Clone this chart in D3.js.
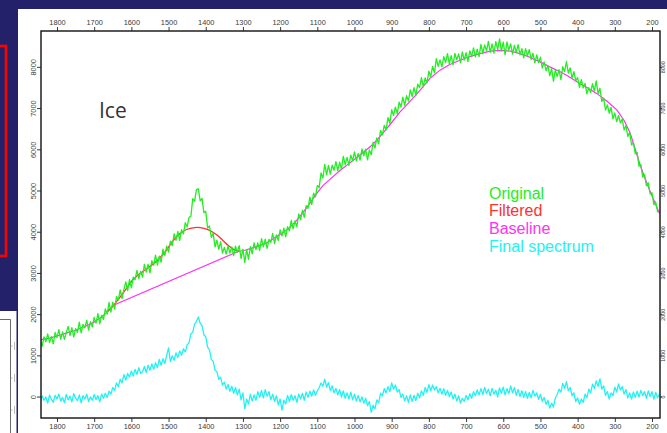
<!DOCTYPE html>
<html>
<head>
<meta charset="utf-8">
<script src="https://cdn.jsdelivr.net/npm/d3@7/dist/d3.min.js"></script>
<style>
  html, body { margin: 0; padding: 0; background: #232169; overflow: hidden; }
  svg { display: block; }
  .tick text { font-family: "Liberation Sans", Arial, sans-serif; font-size: 7.4px; fill: #3a3a3a; }
</style>
</head>
<body>
<script>
// Raman spectrum of ice: raw signal, filtered peak region, fitted baseline and corrected spectrum.
// Spectra are sampled every 5 cm-1, starting at 1845 cm-1 and going down.
const WAVE_START = 1845;
const WAVE_STEP = 5;

const xTicks = [1800, 1700, 1600, 1500, 1400, 1300, 1200, 1100, 1000, 900, 800, 700, 600, 500, 400, 300, 200];
const yTicks = [0, 1000, 2000, 3000, 4000, 5000, 6000, 7000, 8000];

const originalValues = [
  1390,1220,1450,1330,1520,1310,1455,1280,1555,1430,
  1624,1388,1572,1386,1550,1704,1478,1672,1446,1650,
  1558,1806,1544,1752,1670,1852,1614,1816,1688,1920,
  1782,2015,1767,1970,1873,2127,2000,2283,2047,2290,
  2122,2425,2347,2590,2377,2595,2782,2570,2840,2640,
  2900,2840,3062,2865,3037,2900,3210,3020,3210,3000,
  3297,3185,3432,3190,3405,3260,3575,3420,3653,3507,
  3770,3660,3950,3790,4010,3790,4050,3945,4220,4115,
  4350,4370,4800,4735,5020,5040,4750,4810,4460,4495,
  4090,4140,3860,3960,3630,3795,3570,3760,3480,3620,
  3457,3653,3480,3633,3417,3650,3497,3663,3350,3577,
  3253,3570,3330,3640,3465,3730,3565,3727,3545,3832,
  3630,3818,3595,3813,3741,3957,3714,3920,3783,4047,
  3900,4085,3873,4122,4020,4275,4070,4265,4120,4430,
  4290,4520,4348,4635,4563,4840,4658,4935,4843,5120,
  5073,5427,5300,5633,5387,5610,5397,5615,5492,5700,
  5482,5690,5520,5830,5627,5804,5611,5858,5721,5935,
  5720,5902,5735,6007,5844,6004,5745,5985,5865,6170,
  6030,6275,6130,6460,6350,6580,6470,6770,6630,6960,
  6820,7025,6860,7145,7025,7267,7068,7300,7170,7440,
  7280,7494,7307,7580,7493,7740,7517,7733,7610,7897,
  7763,8010,7855,8200,8010,8170,8000,8250,8100,8320,
  8070,8270,8050,8325,8170,8315,8100,8362,8164,8346,
  8128,8390,8250,8460,8240,8430,8250,8547,8324,8531,
  8388,8616,8352,8558,8334,8610,8420,8680,8380,8600,
  8293,8605,8408,8560,8310,8520,8350,8540,8290,8440,
  8220,8440,8260,8420,8175,8330,8095,8290,8102,8235,
  7968,8120,7908,8027,7785,7963,7650,7928,7766,7934,
  7690,8002,7885,8130,7850,7975,7730,7882,7665,7740,
  7505,7690,7490,7598,7346,7495,7380,7590,7410,7660,
  7350,7480,7160,7240,6950,7075,6875,7015,6740,6880,
  6670,6820,6640,6735,6470,6580,6310,6410,6105,6160,
  5890,5925,5590,5630,5325,5390,5120,5185,4915,4945,
  4660,4720,4490,4480
];

const finalValues = [
  -120,20,-90,-10,-160,40,-70,-140,30,-60,
  60,-110,-20,-150,50,-80,10,-130,70,-40,
  -100,40,-150,20,-60,60,-120,-10,-90,50,
  -70,20,-130,60,-40,80,-20,130,60,220,
  150,330,240,420,330,530,400,560,470,620,
  500,660,540,700,560,600,730,580,760,640,
  790,660,820,700,900,760,920,800,1000,1180,
  850,990,880,1060,950,1110,1000,1160,1080,1260,
  1300,1520,1560,1760,1820,1930,1780,1720,1500,1450,
  1200,1130,900,860,640,600,420,470,280,350,
  180,290,130,250,80,220,40,180,-80,90,
  -300,-60,-180,60,-110,40,-90,120,-20,150,
  -30,170,10,120,-80,60,-120,20,-200,-60,
  -330,-90,-180,30,-120,50,-90,20,-140,60,
  -60,80,-90,110,-20,130,10,160,30,140,
  220,330,250,420,230,340,150,260,90,200,
  40,170,-10,140,-40,90,-60,110,-80,60,
  -110,30,-130,-10,-160,-40,-220,-120,-380,-210,
  -300,-80,-150,80,20,190,90,240,120,330,
  180,280,110,170,-20,60,-110,20,-140,40,
  -120,30,-100,80,-30,140,30,220,100,290,
  140,280,160,240,90,200,60,190,30,150,
  0,110,-60,60,-110,20,-160,-40,-120,30,
  -80,70,-40,120,20,160,40,190,50,220,
  70,180,20,200,60,150,-10,210,80,230,
  40,190,70,260,90,220,30,170,0,140,
  -20,120,-40,100,-30,150,10,90,-70,60,
  -120,-20,-190,-90,-280,-160,-250,-40,50,180,
  110,320,200,360,140,220,20,90,-120,-30,
  -190,-60,-140,60,-30,180,90,300,200,380,
  250,430,180,260,30,120,-60,90,20,230,
  110,310,160,240,60,170,-30,90,-60,110,
  -20,130,-10,150,20,120,-40,140,0,120,
  -60,100,-30,60
];

const baselineWave = [1845,1820,1800,1775,1750,1725,1700,1680,1665,1645,1313,1295,1280,1260,1240,1227,1210,1190,1173,1155,1140,1120,1100,1085,1066,1040,1012,985,958,940,923,900,878,850,824,797,770,745,716,690,663,635,609,580,555,530,501,475,447,425,402,375,348,320,294,275,259,245,232,220,206,193,180];
const baselineValues = [1380,1420,1470,1540,1610,1700,1810,1930,2050,2230,3520,3550,3590,3650,3710,3780,3880,3990,4110,4280,4450,4690,4950,5120,5270,5480,5670,5860,6060,6220,6400,6650,6900,7170,7430,7720,7920,8050,8160,8250,8320,8380,8400,8380,8320,8240,8120,8000,7880,7770,7640,7500,7350,7160,6950,6700,6400,6000,5620,5320,5000,4720,4450];

const filteredWave = [1665,1645,1620,1595,1570,1545,1525,1505,1490,1470,1450,1430,1415,1400,1385,1370,1355,1340,1325,1310];
const filteredValues = [2060,2250,2540,2840,3030,3190,3350,3560,3760,3950,4060,4100,4100,4070,4010,3920,3800,3670,3570,3530];

const legendLabels = ["Original", "Filtered", "Baseline", "Final spectrum"];
const seriesColors = ["#22ee22", "#ff3030", "#ff33ee", "#22f2f2"];

const W = 667, H = 433;
const plot = { left: 41, right: 660, top: 31, bottom: 418 };

const svg = d3.select("body").append("svg").attr("width", W).attr("height", H);

// slide background and white chart panel
svg.append("rect").attr("width", W).attr("height", H).attr("fill", "#232169");
svg.append("rect").attr("x", 18).attr("y", 9).attr("width", W - 18).attr("height", H - 9).attr("fill", "#ffffff");

// red frame at the left edge
svg.append("rect").attr("x", -10).attr("y", 46).attr("width", 16).attr("height", 210)
  .attr("fill", "none").attr("stroke", "#ff0000").attr("stroke-width", 2.6);

// small neighbouring panel at bottom left
svg.append("rect").attr("x", 0).attr("y", 311).attr("width", 16.5).attr("height", H - 311).attr("fill", "#ffffff");
svg.append("path").attr("d", "M0,319.5H10.5V433").attr("fill", "none").attr("stroke", "#444").attr("stroke-width", 0.8);
[346, 378, 410].forEach(v => {
  svg.append("line").attr("x1", 10.5).attr("x2", 12.5).attr("y1", v).attr("y2", v).attr("stroke", "#888").attr("stroke-width", 0.6);
  svg.append("line").attr("x1", 14.5).attr("x2", 14.5).attr("y1", v - 4).attr("y2", v + 4).attr("stroke", "#bbb").attr("stroke-width", 1);
});

const x = d3.scaleLinear().domain([1843, 178.5]).range([plot.left, plot.right]);
const y = d3.scaleLinear().domain([-520, 8870]).range([plot.bottom, plot.top]);

svg.append("clipPath").attr("id", "plotClip").append("rect")
  .attr("x", plot.left).attr("y", plot.top)
  .attr("width", plot.right - plot.left).attr("height", plot.bottom - plot.top);

const g = svg.append("g").attr("clip-path", "url(#plotClip)");

const sampled = vals => vals.map((v, i) => [WAVE_START - WAVE_STEP * i, v]);
const paired = (ws, vs) => ws.map((w, i) => [w, vs[i]]);

const lineLinear = d3.line().x(d => x(d[0])).y(d => y(d[1]));
const lineSmooth = d3.line().x(d => x(d[0])).y(d => y(d[1])).curve(d3.curveCatmullRom);

g.append("path").datum(paired(baselineWave, baselineValues)).attr("d", lineLinear)
  .attr("fill", "none").attr("stroke", seriesColors[2]).attr("stroke-width", 1.2);
g.append("path").datum(paired(filteredWave, filteredValues)).attr("d", lineSmooth)
  .attr("fill", "none").attr("stroke", seriesColors[1]).attr("stroke-width", 1.3);
g.append("path").datum(sampled(originalValues)).attr("d", lineLinear)
  .attr("fill", "none").attr("stroke", seriesColors[0]).attr("stroke-width", 1.3).attr("stroke-linejoin", "round");
g.append("path").datum(sampled(finalValues)).attr("d", lineLinear)
  .attr("fill", "none").attr("stroke", seriesColors[3]).attr("stroke-width", 1.3).attr("stroke-linejoin", "round");

// frame
svg.append("rect").attr("x", plot.left).attr("y", plot.top)
  .attr("width", plot.right - plot.left).attr("height", plot.bottom - plot.top)
  .attr("fill", "none").attr("stroke", "#111").attr("stroke-width", 1.4);

const fmt = d3.format("d");
function styleAxis(sel) {
  sel.select(".domain").remove();
  sel.selectAll(".tick line").attr("stroke", "#222").attr("stroke-width", 0.9);
}

svg.append("g").attr("transform", `translate(0,${plot.top})`)
  .call(d3.axisTop(x).tickValues(xTicks).tickFormat(fmt).tickSize(4).tickPadding(2))
  .call(styleAxis);
svg.append("g").attr("transform", `translate(0,${plot.bottom})`)
  .call(d3.axisBottom(x).tickValues(xTicks).tickFormat(fmt).tickSize(4).tickPadding(2))
  .call(styleAxis);

const leftAxis = svg.append("g").attr("transform", `translate(${plot.left},0)`)
  .call(d3.axisLeft(y).tickValues(yTicks).tickFormat(fmt).tickSize(4))
  .call(styleAxis);
leftAxis.selectAll(".tick text")
  .attr("transform", "rotate(-90)").attr("x", 0).attr("y", -5.5).attr("dy", 0)
  .attr("text-anchor", "middle");

// right axis: short ticks and small labels squeezed against the panel edge
const rightAxis = svg.append("g").attr("transform", `translate(${plot.right},0)`)
  .call(d3.axisRight(y).tickValues(yTicks).tickFormat(fmt).tickSize(2))
  .call(styleAxis);
rightAxis.selectAll(".tick text")
  .attr("transform", "rotate(-90)").attr("x", 0).attr("y", 5.2).attr("dy", 0)
  .attr("text-anchor", "middle").style("font-size", "5.4px");

// sample name
svg.append("text").attr("x", 99).attr("y", 117.5).text("Ice")
  .attr("font-family", "'Open Sans', sans-serif").attr("font-size", 21).attr("fill", "#333");

// legend
svg.append("g").selectAll("text").data(legendLabels).join("text")
  .attr("x", 489).attr("y", (d, i) => 198.7 + i * 17.7)
  .attr("font-family", "'Liberation Sans', Arial, sans-serif").attr("font-size", 16)
  .attr("fill", (d, i) => seriesColors[i])
  .text(d => d);
</script>
</body>
</html>
